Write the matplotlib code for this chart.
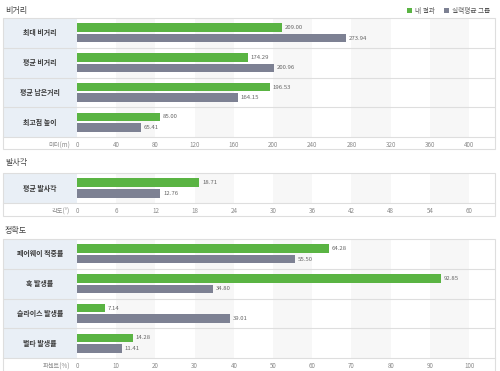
import matplotlib
matplotlib.use("Agg")
import matplotlib.pyplot as plt
from matplotlib.patches import Rectangle

plt.rcParams["font.family"] = ["Noto Sans CJK KR", "DejaVu Sans"]

W, H = 500, 371

GREEN = "#5ab443"
GRAY = "#7d8193"
LABEL_BG = "#e9eff6"
LINE = "#dedede"
BAND = "#f7f7f7"

# ── data ─────────────────────────────────────────────
dist_labels = ["최대 비거리", "평균 비거리", "평균 남은거리", "최고점 높이"]
dist_mine = [209.00, 174.29, 196.53, 85.00]
dist_group = [273.94, 200.96, 164.15, 65.41]
dist_ticks = [0, 40, 80, 120, 160, 200, 240, 280, 320, 360, 400]

angle_labels = ["평균 발사각"]
angle_mine = [18.71]
angle_group = [12.76]
angle_ticks = [0, 6, 12, 18, 24, 30, 36, 42, 48, 54, 60]

acc_labels = ["페어웨이 적중률", "훅 발생률", "슬라이스 발생률", "벌타 발생률"]
acc_mine = [64.28, 92.85, 7.14, 14.28]
acc_group = [55.50, 34.80, 39.01, 11.41]
acc_ticks = [0, 10, 20, 30, 40, 50, 60, 70, 80, 90, 100]

legend_labels = ["내 결과", "실력평균 그룹"]


def rect(x0, top, x1, bottom):
    """pixel box (origin top-left) -> figure fraction [l, b, w, h]"""
    return [x0 / W, 1 - bottom / H, (x1 - x0) / W, (bottom - top) / H]


fig = plt.figure(figsize=(W / 100, H / 100), dpi=100)
fig.patch.set_facecolor("white")

LEFT, SPLIT, RIGHT = 3, 77, 495


def panel(title, title_y, top, row_h, axis_h, labels, mine, group, ticks, unit):
    n = len(labels)
    line_y = top + n * row_h
    bottom = line_y + axis_h
    xmax = ticks[-1] * 1.066

    fig.text(5 / W, 1 - title_y / H, title, fontsize=5.8, color="#444444",
             va="center", ha="left")

    # label column
    lab = fig.add_axes(rect(LEFT, top, SPLIT, line_y))
    lab.set_xlim(0, 1)
    lab.set_ylim(n, 0)
    lab.axis("off")
    lab.add_patch(Rectangle((0, 0), 1, n, facecolor=LABEL_BG, edgecolor="none"))
    for i, t in enumerate(labels):
        lab.text(0.5, i + 0.5, t, ha="center", va="center", fontsize=5,
                 fontweight="bold", color="#3a3a3a")
    for i in range(1, n):
        lab.axhline(i, color=LINE, lw=0.8)

    # bars
    ax = fig.add_axes(rect(SPLIT, top, RIGHT, line_y))
    ax.set_xlim(0, xmax)
    ax.set_ylim(n, 0)
    for s in ax.spines.values():
        s.set_visible(False)
    step = ticks[1] - ticks[0]
    for k in range(1, len(ticks), 2):
        ax.axvspan(ticks[k], ticks[k] + step, color=BAND, lw=0, zorder=0)
    for i in range(1, n):
        ax.axhline(i, color=LINE, lw=0.8, zorder=1)

    ys = [i + 0.5 for i in range(n)]
    ax.barh([y - 0.175 for y in ys], mine, height=0.29, color=GREEN, zorder=2)
    ax.barh([y + 0.175 for y in ys], group, height=0.29, color=GRAY, zorder=2)
    for y, v in zip(ys, mine):
        ax.annotate(f"{v:.2f}", (v, y - 0.175), xytext=(2, 0),
                    textcoords="offset points", va="center", fontsize=4.3,
                    color="#666666")
    for y, v in zip(ys, group):
        ax.annotate(f"{v:.2f}", (v, y + 0.175), xytext=(2, 0),
                    textcoords="offset points", va="center", fontsize=4.3,
                    color="#666666")

    ax.set_xticks(ticks)
    ax.set_xticklabels([str(t) for t in ticks])
    ax.set_yticks([])
    ax.tick_params(axis="x", length=0, pad=2.6, labelsize=4.5,
                   labelcolor="#8a8a8a")
    ax.annotate(unit, (0, n), xytext=(-5, -6.0), textcoords="offset points",
                ha="right", va="center", fontsize=4.5, color="#8a8a8a",
                annotation_clip=False)

    # outer frame and axis line
    fig.add_artist(plt.Line2D([LEFT / W, RIGHT / W], [1 - line_y / H] * 2,
                              color=LINE, lw=0.8))
    l, b, w, h = rect(LEFT, top, RIGHT, bottom)
    fig.add_artist(Rectangle((l, b), w, h, transform=fig.transFigure,
                             facecolor="none", edgecolor=LINE, lw=0.8))


panel("비거리", 10, 18, 29.75, 12, dist_labels, dist_mine, dist_group,
      dist_ticks, "미터(m)")
panel("발사각", 163, 173, 30, 13, angle_labels, angle_mine, angle_group,
      angle_ticks, "각도(°)")
panel("정확도", 231, 239, 29.75, 13, acc_labels, acc_mine, acc_group,
      acc_ticks, "퍼센트(%)")

# legend
for x, c, t in [(407, GREEN, legend_labels[0]), (444, GRAY, legend_labels[1])]:
    fig.add_artist(Rectangle((x / W, 1 - 13 / H), 5 / W, 5 / H,
                             transform=fig.transFigure, facecolor=c,
                             edgecolor="none"))
    fig.text((x + 8) / W, 1 - 10.5 / H, t, fontsize=4.8, color="#555555",
             va="center", ha="left")

fig.savefig("out.png", dpi=100, facecolor="white")
